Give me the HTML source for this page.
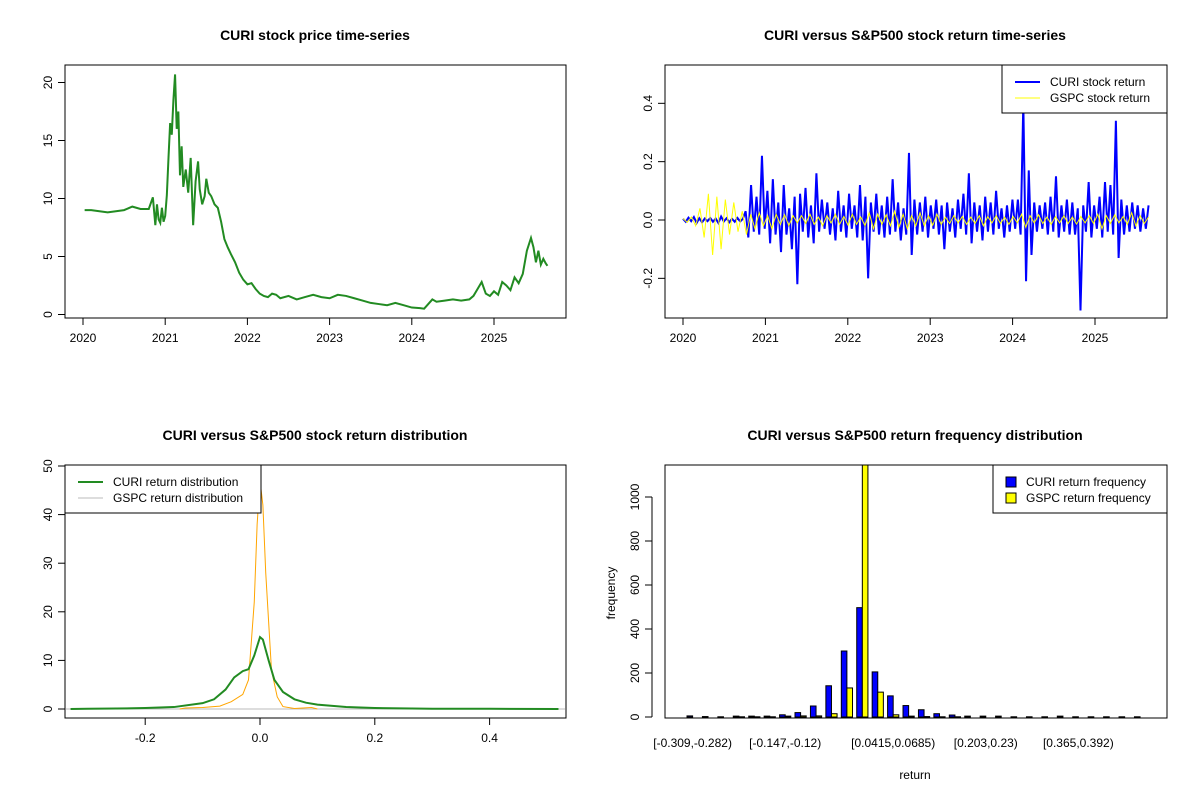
<!DOCTYPE html>
<html><head><meta charset="utf-8"><style>
body{margin:0;background:#fff;}
svg text{font-family:"Liberation Sans",Arial,sans-serif;}
</style></head><body>
<svg id="c" width="1200" height="800" xmlns="http://www.w3.org/2000/svg"></svg>
<script>
const priceYears=[2020.02,2020.1,2020.2,2020.3,2020.4,2020.5,2020.6,2020.7,2020.8,2020.85,2020.88,2020.9,2020.92,2020.94,2020.96,2020.98,2021.0,2021.02,2021.04,2021.06,2021.08,2021.1,2021.12,2021.14,2021.16,2021.18,2021.2,2021.22,2021.25,2021.28,2021.31,2021.34,2021.37,2021.4,2021.42,2021.45,2021.48,2021.5,2021.53,2021.56,2021.6,2021.64,2021.68,2021.72,2021.76,2021.8,2021.85,2021.9,2021.95,2022.0,2022.05,2022.1,2022.15,2022.2,2022.25,2022.3,2022.35,2022.4,2022.5,2022.6,2022.7,2022.8,2022.9,2023.0,2023.1,2023.2,2023.3,2023.4,2023.5,2023.6,2023.7,2023.8,2023.9,2024.0,2024.1,2024.15,2024.2,2024.25,2024.3,2024.4,2024.5,2024.6,2024.7,2024.75,2024.8,2024.85,2024.9,2024.95,2025.0,2025.05,2025.1,2025.15,2025.2,2025.25,2025.3,2025.35,2025.4,2025.45,2025.48,2025.51,2025.54,2025.57,2025.6,2025.63,2025.65];
const priceValues=[9.0,9.0,8.9,8.8,8.9,9.0,9.3,9.1,9.1,10.1,7.7,9.5,8.2,7.9,9.2,8.0,8.5,10.3,13.5,16.5,15.5,18.5,20.7,16,17.5,12,14.5,11,12.5,10.5,13.5,7.7,11.5,13.2,10.8,9.5,10.2,11.7,10.5,10.2,9.5,9.2,8.0,6.5,5.8,5.2,4.5,3.6,3.0,2.6,2.7,2.2,1.8,1.6,1.5,1.8,1.7,1.4,1.6,1.3,1.5,1.7,1.5,1.4,1.7,1.6,1.4,1.2,1.0,0.9,0.8,1.0,0.8,0.6,0.55,0.5,0.9,1.3,1.1,1.2,1.3,1.2,1.3,1.6,2.2,2.8,1.8,1.6,2.0,1.7,2.8,2.5,2.1,3.2,2.7,3.5,5.5,6.6,5.8,4.5,5.5,4.3,4.8,4.4,4.2];
const curiReturns=[0.004,-0.006,0.008,-0.004,0.01,-0.01,0.006,-0.008,0.005,-0.004,0.007,-0.006,0.005,-0.01,0.012,-0.005,0.006,-0.008,0.004,-0.006,0.007,-0.005,0.004,
0.03,-0.06,0.12,-0.04,0.08,-0.05,0.22,-0.03,0.1,-0.08,
0.14,-0.05,0.06,-0.11,0.12,-0.05,0.04,-0.1,0.08,-0.22,
0.09,-0.04,0.11,-0.06,0.05,-0.08,0.16,-0.04,0.07,-0.03,
0.06,-0.05,0.04,-0.07,0.1,-0.04,0.05,-0.06,0.09,-0.03,
0.05,-0.06,0.12,-0.07,0.08,-0.2,0.06,-0.04,0.09,-0.05,
0.05,-0.06,0.08,-0.05,0.14,-0.04,0.06,-0.07,0.04,-0.05,
0.23,-0.12,0.07,-0.05,0.06,-0.04,0.08,-0.06,0.05,-0.03,
0.07,-0.05,0.05,-0.1,0.06,-0.04,0.04,-0.06,0.07,-0.03,
0.09,-0.05,0.16,-0.08,0.06,-0.04,0.05,-0.07,0.08,-0.04,
0.06,-0.05,0.1,-0.03,0.04,-0.06,0.05,-0.04,0.07,-0.03,
0.07,-0.05,0.4,-0.21,0.17,-0.12,0.06,-0.04,0.05,-0.03,
0.06,-0.05,0.08,-0.04,0.15,-0.06,0.05,-0.04,0.07,-0.05,
0.06,-0.05,0.04,-0.31,0.05,-0.04,0.13,-0.06,0.05,-0.03,
0.08,-0.06,0.13,-0.04,0.12,-0.05,0.34,-0.13,0.07,-0.05,
0.05,-0.04,0.06,-0.03,0.05,-0.04,0.04,-0.03,0.05];
const gspcReturns=[0.005,-0.008,0.01,-0.02,0.04,-0.06,0.09,-0.12,0.08,-0.1,0.07,-0.05,0.06,-0.04,0.03,-0.05,0.02,-0.03,0.025,-0.02,0.015,-0.03,0.02,-0.015,0.018,-0.02,0.015,-0.01,
0.015,-0.012,0.02,-0.015,0.01,-0.02,0.015,-0.01,0.02,-0.015,0.012,-0.018,0.02,-0.015,0.01,-0.02,0.025,-0.03,0.02,-0.015,0.018,-0.02,0.03,-0.025,0.02,-0.03,0.015,-0.02,0.025,-0.02,0.015,-0.018,
0.02,-0.015,0.01,-0.012,0.015,-0.01,0.012,-0.015,0.01,-0.012,0.015,-0.02,0.012,-0.01,0.015,-0.012,0.01,-0.015,0.012,-0.01,0.02,-0.025,0.015,-0.01,0.018,-0.012,0.01,-0.015,0.012,-0.01,
0.015,-0.012,0.01,-0.014,0.012,-0.01,0.015,-0.012,0.02,-0.03,0.015,-0.012,0.018,-0.01,0.012,-0.015,0.025,-0.02,0.015,-0.012,0.01];
const densX=[-0.33,-0.3,-0.25,-0.2,-0.15,-0.1,-0.08,-0.06,-0.045,-0.03,-0.02,-0.01,0,0.005,0.015,0.025,0.04,0.06,0.08,0.1,0.15,0.2,0.3,0.4,0.52];
const densCuri=[0,0.05,0.1,0.2,0.4,1.2,2,4,6.5,7.8,8.2,11,14.8,14.3,10,6,3.5,2,1.3,0.9,0.4,0.2,0.05,0.05,0];
const gspcX=[-0.14,-0.13,-0.1,-0.07,-0.05,-0.03,-0.02,-0.01,-0.005,0,0.005,0.01,0.02,0.03,0.04,0.06,0.09,0.1];
const densGspc=[0,0.2,0.3,0.6,1.5,3,6,22,38,47,42,28,8,2.5,0.5,0.1,0.3,0];
const binLabels=["[-0.309,-0.282)","[-0.147,-0.12)","[0.0415,0.0685)","[0.203,0.23)","[0.365,0.392)"];
const binLabelIdx=[0,6,13,19,25];
const curiFreq=[5,2,1,4,4,4,10,20,50,142,300,497,205,96,52,33,15,9,4,4,4,1,1,1,4,1,1,1,1,1];
const gspcFreq=[0,0,0,1,1,1,4,5,5,15,132,1900,113,10,4,2,1,1,0,0,0,0,0,0,0,0,0,0,0,0];

const svg=document.getElementById('c');const NS='http://www.w3.org/2000/svg';
function el(t,a,p){const e=document.createElementNS(NS,t);for(const k in a)e.setAttribute(k,a[k]);(p||svg).appendChild(e);return e;}
function txt(s,x,y,a,p){const e=el('text',Object.assign({x:x,y:y,'font-size':12,'text-anchor':'middle',fill:'#000'},a||{}),p);e.textContent=s;return e;}
function box(x0,y0,x1,y1,name){const r=el('rect',{x:x0,y:y0,width:x1-x0,height:y1-y0,fill:'none',stroke:'#000','stroke-width':1});

}
function yt(x0,y,lab,name){el('line',{x1:x0-7,y1:y,x2:x0,y2:y,stroke:'#000'});const t=txt(lab,x0-13,y,{transform:`rotate(-90 ${x0-13} ${y})`});

}
function xt(x,y0,lab,name){el('line',{x1:x,y1:y0,x2:x,y2:y0+7,stroke:'#000'});const t=txt(lab,x,y0+24);

}
function title(s,x,name){const t=txt(s,x,name.startsWith('p1')||name.startsWith('p2')?40:440,{'font-size':14,'font-weight':'bold'});

}

// Panel 1
const X1=y=>83+(y-2020)*82.2, Y1=v=>314.5-v*11.6;
title('CURI stock price time-series',315,'p1-title');
box(65,65,566,318,'p1-plot-area');
[0,5,10,15,20].forEach(v=>yt(65,Y1(v),String(v),'p1-y-tick'));
[2020,2021,2022,2023,2024,2025].forEach(v=>xt(X1(v),318,String(v),'p1-x-tick'));
let p1=el('polyline',{points:priceYears.map((y,i)=>X1(y)+','+Y1(priceValues[i])).join(' '),fill:'none',stroke:'#228B22','stroke-width':2});



// Panel 2
const X2=y=>683+(y-2020)*82.4, Y2=v=>220-v*291.7;
title('CURI versus S&P500 stock return time-series',915,'p2-title');
box(665,65,1167,318,'p2-plot-area');
[[-0.2,'-0.2'],[0,'0.0'],[0.2,'0.2'],[0.4,'0.4']].forEach(v=>yt(665,Y2(v[0]),v[1],'p2-y-tick'));
[2020,2021,2022,2023,2024,2025].forEach(v=>xt(X2(v),318,String(v),'p2-x-tick'));
const cDt=5.65/(curiReturns.length-1), gDt=5.65/(gspcReturns.length-1);
let p2a=el('polyline',{points:curiReturns.map((v,i)=>X2(2020+i*cDt)+','+Y2(v)).join(' '),fill:'none',stroke:'#0000FF','stroke-width':2});


let p2b=el('polyline',{points:gspcReturns.map((v,i)=>X2(2020+i*gDt)+','+Y2(v)).join(' '),fill:'none',stroke:'#FFFF00','stroke-width':1});


const lg2=el('g',{});


el('rect',{x:1002,y:65,width:165,height:48,fill:'#fff',stroke:'#000'},lg2);
el('line',{x1:1015,y1:82,x2:1040,y2:82,stroke:'#0000FF','stroke-width':2},lg2);
el('line',{x1:1015,y1:98,x2:1040,y2:98,stroke:'#FFFF00','stroke-width':1},lg2);
txt('CURI stock return',1050,86,{'text-anchor':'start'},lg2);
txt('GSPC stock return',1050,102,{'text-anchor':'start'},lg2);

// Panel 3
const X3=v=>260+v*574, Y3=v=>709-v*4.86;
title('CURI versus S&P500 stock return distribution',315,'p3-title');
box(65,465,566,718,'p3-plot-area');
[0,10,20,30,40,50].forEach(v=>yt(65,Y3(v),String(v),'p3-y-tick'));
[[-0.2,'-0.2'],[0,'0.0'],[0.2,'0.2'],[0.4,'0.4']].forEach(v=>xt(X3(v[0]),718,v[1],'p3-x-tick'));
el('line',{x1:66,y1:709,x2:565,y2:709,stroke:'#bbb'});
let d2=el('polyline',{points:gspcX.map((x,i)=>X3(x)+','+Y3(densGspc[i])).join(' '),fill:'none',stroke:'#FFA500','stroke-width':1});


let d1=el('polyline',{points:densX.map((x,i)=>X3(x)+','+Y3(densCuri[i])).join(' '),fill:'none',stroke:'#228B22','stroke-width':2});


const lg3=el('g',{});


el('rect',{x:65,y:465,width:196,height:48,fill:'#fff',stroke:'#000'},lg3);
el('line',{x1:78,y1:482,x2:103,y2:482,stroke:'#228B22','stroke-width':2},lg3);
el('line',{x1:78,y1:498,x2:103,y2:498,stroke:'#bbb','stroke-width':1},lg3);
txt('CURI return distribution',113,486,{'text-anchor':'start'},lg3);
txt('GSPC return distribution',113,502,{'text-anchor':'start'},lg3);

// Panel 4
const Y4=v=>717-v*0.22, G4=i=>692.6+i*15.43;
title('CURI versus S&P500 return frequency distribution',915,'p4-title');
const clip=el('clipPath',{id:'cp4'});el('rect',{x:665,y:465,width:502,height:253},clip);
const bars=el('g',{'clip-path':'url(#cp4)'});
curiFreq.forEach((v,i)=>{const r=el('rect',{x:G4(i)-5.6,y:Y4(v),width:5.6,height:v*0.22,fill:'#0000FF',stroke:'#000','stroke-width':1},bars);

});
gspcFreq.forEach((v,i)=>{const r=el('rect',{x:G4(i),y:Y4(v),width:5.6,height:v*0.22,fill:'#FFFF00',stroke:'#000','stroke-width':1},bars);

});
box(665,465,1167,718,'p4-plot-area');
[0,200,400,600,800,1000].forEach(v=>yt(652,Y4(v),String(v),'p4-y-tick'));
el('line',{x1:652,y1:Y4(0),x2:652,y2:Y4(1000),stroke:'#000'});
binLabelIdx.forEach((b,i)=>{const t=txt(binLabels[i],G4(b),747);

});
const yl=txt('frequency',615,593,{transform:'rotate(-90 615 593)'});


const xl=txt('return',915,779);


const lg4=el('g',{});


el('rect',{x:993,y:465,width:174,height:48,fill:'#fff',stroke:'#000'},lg4);
el('rect',{x:1006,y:477,width:10,height:10,fill:'#0000FF',stroke:'#000'},lg4);
el('rect',{x:1006,y:493,width:10,height:10,fill:'#FFFF00',stroke:'#000'},lg4);
txt('CURI return frequency',1026,486,{'text-anchor':'start'},lg4);
txt('GSPC return frequency',1026,502,{'text-anchor':'start'},lg4);
</script>
</body></html>
